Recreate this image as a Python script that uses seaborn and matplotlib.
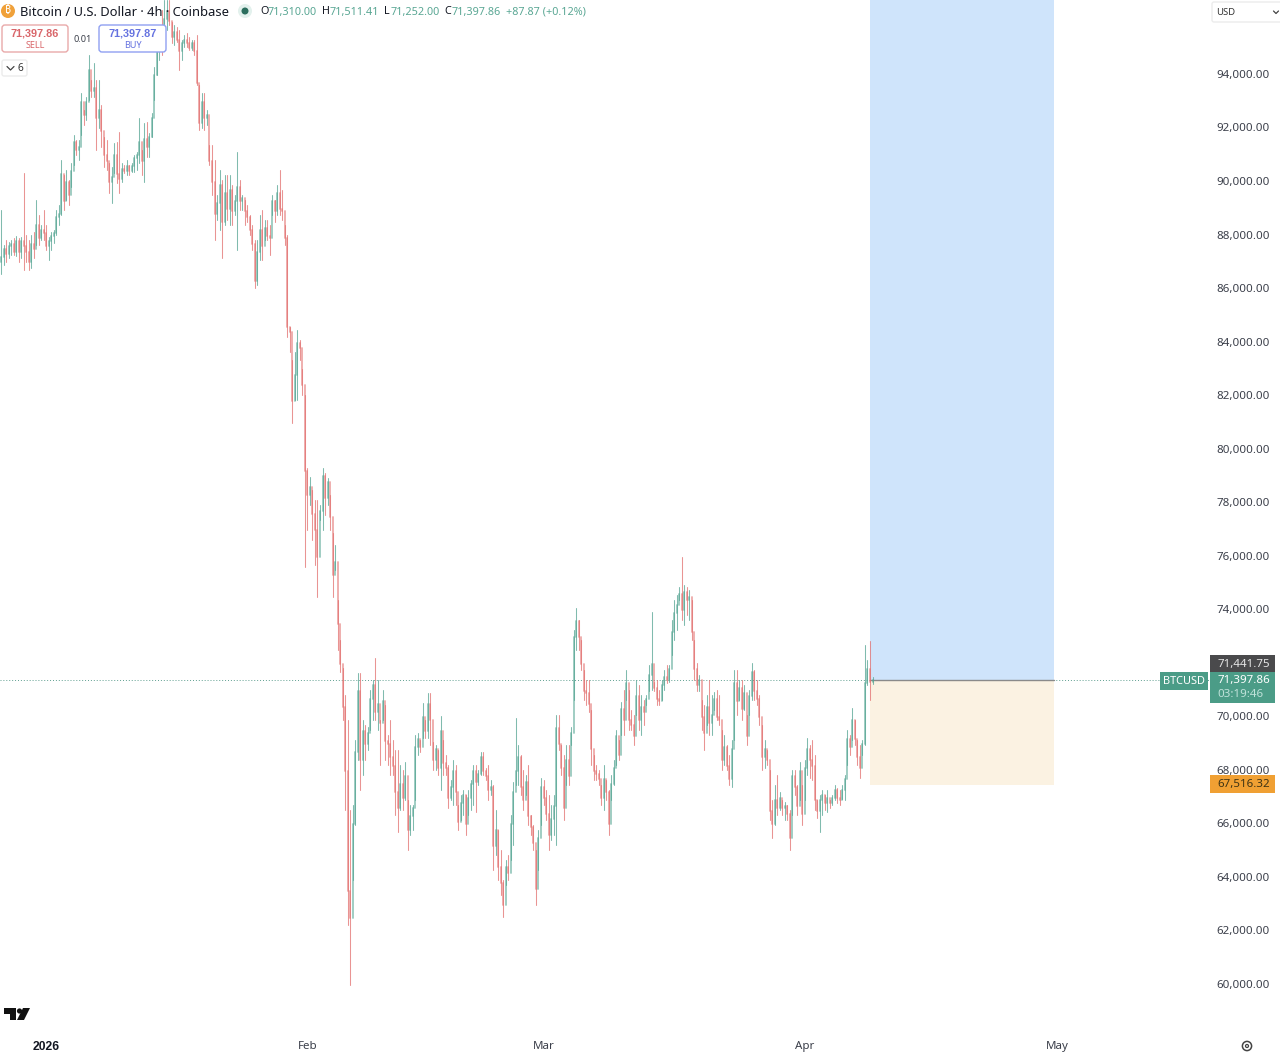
import numpy as np
import pandas as pd
import matplotlib
matplotlib.use("Agg")
import matplotlib.pyplot as plt
from matplotlib.patches import FancyBboxPatch, Rectangle, Circle, Polygon
from matplotlib.transforms import ScaledTranslation
import seaborn as sns

# Prices in thousands of USD, one list per field
highs = [
 88.95,87.65,87.83,87.76,87.83,87.9,87.98,87.9,87.95,90.34,
 88.02,87.83,88.02,88.13,89.33,88.77,88.39,88.95,88.39,87.95,
 88.13,88.21,88.95,89.14,90.82,90.26,90.45,90.08,90.71,91.76,
 91.57,91.57,93.33,92.69,93.18,94.75,93.81,94.45,93.81,93.81,
 92.88,91.68,91.57,90.71,90.56,91.46,91.49,91.87,90.71,90.64,
 90.82,90.64,90.71,91.01,91.12,92.39,91.2,92.2,92.24,91.83,
 92.58,94.3,95.12,95.87,96.43,96.8,96.8,96.8,95.98,95.87,
 95.79,95.68,95.31,95.49,95.57,95.42,95.31,95.31,95.49,93.62,
 93.33,93.33,92.69,91.38,91.38,90.82,89.51,90.45,90.08,90.26,
 90.26,90.26,89.89,89.51,91.12,90.08,89.51,89.33,89.14,88.77,
 88.39,87.83,87.83,88.77,88.95,88.58,88.58,88.39,89.51,89.33,
 89.89,90.45,89.7,88.39,88.02,84.58,83.35,83.65,84.47,84.1,
 83.0,82.04,79.32,78.98,78.49,78.12,78.12,77.93,79.32,79.13,
 78.94,78.31,76.89,76.44,74.38,72.89,71.84,70.84,69.9,66.54,
 66.72,69.15,71.66,71.66,69.9,69.71,69.63,71.02,71.39,72.22,
 71.39,69.9,71.02,70.46,69.34,69.9,69.15,68.78,68.78,68.22,
 68.03,68.33,66.91,66.72,66.72,69.34,69.41,69.15,70.54,69.9,
 70.91,70.91,69.08,68.97,68.78,70.05,69.15,68.59,68.22,67.66,
 68.41,68.22,66.72,67.1,67.29,67.1,67.29,67.66,68.22,68.22,
 68.03,68.71,68.71,68.11,68.22,67.66,67.47,66.54,65.79,65.04,
 63.92,64.67,64.86,66.35,67.58,69.98,68.97,68.59,68.03,67.85,
 68.22,66.35,65.98,65.04,65.79,67.73,67.66,67.29,67.1,66.72,
 67.1,70.09,70.09,68.97,68.59,68.97,68.97,69.63,73.26,74.08,
 73.64,72.89,71.77,71.39,71.39,70.27,68.59,68.22,68.03,67.47,
 68.22,67.66,
 67.29,67.85,68.41,69.53,69.15,70.57,71.02,71.77,71.02,70.27,
 70.09,71.39,71.2,70.84,70.65,70.84,71.96,73.94,71.32,71.39,
 71.02,71.39,71.77,71.96,71.96,73.64,74.38,74.57,74.87,76.0,
 74.94,74.87,74.76,74.38,72.89,72.03,71.58,70.65,70.46,70.84,
 71.39,70.84,70.95,71.02,70.84,69.53,69.34,68.97,68.59,69.15,
 71.77,71.77,71.39,71.39,71.2,70.09,71.02,72.03,71.77,71.39,
 70.84,69.71,69.15,68.78,68.03,66.91,67.47,67.85,67.21,66.91,
 66.84,66.72,66.54,68.03,68.03,67.47,68.33,67.47,68.41,69.23,
 68.97,69.15,68.59,66.91,67.1,67.29,67.1,67.29,66.91,67.1,67.47,67.36,
 67.29,67.47,67.85,69.53,69.34,70.35,69.9,69.15,68.97,69.15,72.7,
 72.14,72.85,71.511]
lows = [
 86.56,86.9,87.0,87.16,87.27,87.27,87.24,87.0,87.16,86.71,
 87.0,86.71,86.79,87.16,87.65,87.65,87.83,87.83,87.46,87.09,
 87.46,87.72,88.02,88.39,88.77,88.95,89.33,89.14,89.81,90.64,
 91.01,90.82,91.76,92.13,92.32,93.06,93.18,93.18,91.2,92.02,
 91.31,90.56,90.45,89.59,89.22,90.34,89.96,89.59,90.0,90.34,
 90.26,90.26,90.37,90.37,90.45,90.71,90.26,90.0,90.93,90.93,
 91.68,93.06,94.0,94.56,94.75,95.31,95.68,95.87,95.19,95.12,
 95.23,94.18,94.56,95.04,95.04,94.93,94.93,94.75,93.62,91.94,
 92.02,91.94,92.13,90.64,89.51,87.83,88.58,88.21,87.16,88.39,
 88.58,88.39,88.39,88.77,87.46,88.95,88.95,88.39,88.51,88.02,
 87.46,86.04,86.15,87.09,87.09,87.83,87.83,87.27,88.77,88.51,
 88.77,88.77,88.58,87.65,84.21,83.65,81.0,81.86,81.86,83.35,
 82.04,75.62,77.0,77.93,76.63,75.69,74.5,77.37,77.0,77.56,
 77.93,77.0,74.5,75.5,72.52,71.69,69.9,66.54,62.24,60.0,
 63.92,65.98,68.41,67.29,67.85,68.41,68.78,69.53,69.9,69.9,
 69.53,68.22,69.9,68.41,68.22,67.85,67.85,66.35,65.72,66.54,
 66.54,66.91,65.04,65.6,65.79,66.91,68.59,68.71,69.23,69.23,
 69.23,68.97,68.03,68.03,67.85,67.29,67.85,67.85,66.61,66.91,
 66.72,66.72,65.79,66.16,66.35,65.6,66.35,66.54,66.72,66.46,
 67.47,67.85,67.85,67.66,66.91,67.1,64.3,64.86,63.92,63.37,
 62.54,63.74,63.92,64.67,65.23,67.47,67.47,67.1,66.54,67.1,
 65.98,65.6,65.04,63.0,64.3,65.98,66.72,66.16,65.04,65.42,
 65.6,65.23,68.78,67.85,66.16,67.47,67.47,68.97,70.65,72.52,
 72.52,71.77,70.65,70.46,70.2,68.22,67.66,67.66,67.47,66.72,
 66.54,66.91,
 65.6,66.91,67.47,68.22,68.41,69.34,69.34,70.65,69.53,69.53,
 68.97,70.09,69.53,69.34,69.71,70.46,70.97,71.02,70.97,70.46,
 70.46,70.65,71.02,71.28,71.32,72.33,72.89,73.26,74.38,73.64,
 73.45,73.82,73.64,72.89,71.39,70.97,70.97,69.53,68.78,69.71,
 69.34,69.34,70.27,69.9,69.71,68.03,68.22,68.03,67.47,67.4,
 69.15,70.09,70.65,69.9,70.27,68.97,70.09,70.65,70.65,70.46,
 69.71,68.03,68.11,68.22,66.16,65.49,65.98,66.35,66.54,66.35,
 66.16,66.16,65.04,66.35,67.1,66.35,66.91,65.98,66.91,67.85,
 67.73,67.66,66.54,66.24,65.72,66.35,66.54,66.46,66.61,66.72,66.91,66.8,
 66.72,66.96,66.91,68.22,68.59,69.15,68.97,68.22,67.73,68.59,68.97,
 71.19,70.65,71.252]
closes = [
 87.2,87.5,87.3,87.6,87.7,87.4,87.8,87.4,87.8,87.6,
 87.4,87.0,87.7,87.5,88.4,87.9,88.2,88.1,87.6,87.8,
 88.0,88.1,88.7,88.8,90.3,89.3,90.0,89.5,90.4,91.5,
 91.2,91.3,93.0,92.5,93.0,94.2,93.4,93.5,92.4,92.7,
 91.9,91.0,90.8,90.0,90.2,91.0,90.3,90.1,90.5,90.4,
 90.6,90.4,90.6,90.9,91.0,91.5,90.8,91.6,91.3,91.7,
 92.4,94.0,94.9,95.6,95.0,96.1,96.4,96.0,95.4,95.6,
 95.3,94.9,95.2,95.3,95.2,95.0,95.2,94.9,93.7,92.2,
 93.0,92.4,92.5,90.8,90.0,88.8,89.2,89.9,88.5,89.6,
 89.0,89.7,88.9,89.3,89.8,89.3,89.4,88.9,88.7,88.2,
 87.7,86.3,87.4,88.2,87.6,88.3,88.0,87.9,89.3,88.9,
 89.6,89.0,88.9,87.9,84.6,84.4,81.8,82.8,84.0,83.8,
 82.4,79.2,78.3,78.6,77.6,77.0,76.0,77.7,79.0,78.2,
 78.8,77.5,75.3,75.8,73.5,72.0,70.4,68.0,63.5,62.5,
 66.0,68.7,71.0,68.4,69.5,69.0,69.4,70.7,71.2,70.2,
 70.5,69.8,70.6,69.1,69.0,68.5,68.2,67.2,66.6,67.5,
 67.0,67.8,65.8,66.3,66.6,68.9,69.2,68.9,70.0,69.5,
 70.5,69.9,68.4,68.8,68.1,69.5,68.3,68.1,67.0,67.4,
 68.0,67.2,66.1,66.8,67.1,66.0,67.0,67.5,68.0,67.6,
 67.9,68.5,68.0,67.8,67.3,67.4,65.2,65.8,64.4,63.8,
 63.0,64.4,64.2,66.0,67.2,68.0,68.5,67.4,66.9,67.6,
 66.3,65.9,65.3,63.6,65.5,67.4,67.0,66.4,65.6,66.2,
 66.7,69.6,69.0,68.1,66.6,68.4,67.8,69.4,73.0,73.6,
 73.0,72.0,71.0,70.9,70.5,68.8,68.0,67.9,67.7,67.0,
 67.7,67.2,
 66.0,67.5,68.1,69.3,68.6,70.3,69.9,71.3,69.9,69.7,
 69.3,70.8,69.9,70.4,70.2,70.7,71.6,72.0,71.1,70.7,
 70.6,71.2,71.5,71.4,71.8,73.2,73.9,74.2,74.6,74.0,
 74.7,74.4,74.5,73.2,71.8,71.2,71.4,70.0,69.4,70.4,
 69.8,70.1,70.7,70.0,69.9,68.4,68.9,68.2,67.7,68.8,
 71.3,70.6,71.1,70.3,70.9,69.3,70.8,71.7,71.0,70.7,
 70.0,68.5,68.8,68.4,66.5,66.0,66.9,66.6,67.0,66.6,
 66.7,66.4,65.5,67.8,67.4,66.7,68.0,66.4,68.1,68.8,
 68.4,68.2,66.9,66.5,66.9,67.1,66.8,67.0,66.8,67.0,67.3,67.0,
 66.9,67.3,67.7,69.2,68.9,69.9,69.2,68.5,68.1,69.0,71.3,
 71.8,71.31,71.39786]
first_open = 87.0
last_price = 71397.86
bid_line = 71441.75
stop_price = 67516.32
tick_prices = list(range(60000, 96000, 2000))
month_ticks = ["2026-01-01", "2026-02-01", "2026-03-01", "2026-04-01", "2026-05-01"]
month_labels = ["2026", "Feb", "Mar", "Apr", "May"]

n = min(len(highs), len(lows), len(closes))
highs, lows, closes = highs[:n], lows[:n], closes[:n]
dates = pd.date_range("2025-12-26 16:00", periods=n, freq="429min")
opens = [first_open] + closes[:-1]

wick_rows, body_rows = [], []
for i in range(n):
    d = "up" if closes[i] >= opens[i] else "down"
    wick_rows += [(i, dates[i], lows[i] * 1000, d), (i, dates[i], highs[i] * 1000, d)]
    body_rows += [(i, dates[i], opens[i] * 1000, d), (i, dates[i], closes[i] * 1000, d)]
cols = ["bar", "date", "price", "dir"]
wicks = pd.DataFrame(wick_rows, columns=cols)
bodies = pd.DataFrame(body_rows, columns=cols)

sns.set_theme(style="white")
plt.rcParams["font.family"] = ["Noto Sans", "DejaVu Sans"]

W, H = 1280, 1052
fig = plt.figure(figsize=(W / 100, H / 100), dpi=100, facecolor="white")
ax = fig.add_axes([0, (H - 1030) / H, 1210 / W, 1030 / H])

RED, GREEN = "#e2706f", "#55a593"
pal = {"up": GREEN, "down": RED}

d1, d2 = pd.Timestamp("2026-04-08 17:00"), pd.Timestamp("2026-04-30 15:00")
ax.fill_between([d1, d2], last_price, 97000, color="#cfe4fb", lw=0, zorder=1)
ax.fill_between([d1, d2], stop_price - 40, last_price, color="#fbf2e2", lw=0, zorder=1)
ax.plot([d1, d2], [last_price] * 2, color="#8a8a8a", lw=1, zorder=1.5)
ax.axhline(last_price, color="#5f9f90", lw=0.7, ls=(0, (1, 2)), zorder=1.2)

sns.lineplot(data=wicks, x="date", y="price", units="bar", estimator=None, hue="dir",
             palette=pal, lw=0.75, alpha=0.75, sort=False, legend=False, ax=ax, zorder=2)
sns.lineplot(data=bodies, x="date", y="price", units="bar", estimator=None, hue="dir",
             palette=pal, lw=1.3, alpha=0.6, sort=False, legend=False, ax=ax, zorder=3)

ax.set_xlim(pd.Timestamp("2026-01-01") - pd.Timedelta(days=46 / 8.43),
            pd.Timestamp("2026-01-01") + pd.Timedelta(days=(1210 - 46) / 8.43))
ax.set_ylim(96800 - 0.03736 * 1030 * 1000, 96800)
ax.set_xlabel(""); ax.set_ylabel("")
ax.yaxis.tick_right()
ax.set_yticks(tick_prices)
ax.set_yticklabels([f"{p:,.2f}" for p in tick_prices], ha="right", fontsize=8.3, color="#3b3f4a")
ax.tick_params(axis="y", length=0, pad=43.2)
up_1px = ScaledTranslation(0, 1 / 100, fig.dpi_scale_trans)
for t in ax.get_yticklabels():
    t.set_transform(t.get_transform() + up_1px)
ax.set_xticks([pd.Timestamp(m) for m in month_ticks])
ax.set_xticklabels(month_labels, fontsize=8.3, color="#3b3f4a")
ax.get_xticklabels()[0].set(fontweight="bold", family="Liberation Sans", fontsize=8.7, color="#131722")
ax.tick_params(axis="x", length=0, pad=8)
for s in ax.spines.values():
    s.set_visible(False)
ax.grid(False)
ax.patch.set_alpha(0)

ov = fig.add_axes([0, 0, 1, 1], zorder=10)
ov.set_xlim(0, W); ov.set_ylim(H, 0); ov.axis("off"); ov.patch.set_alpha(0)

def label(x, y, s, size=8.3, color="#131722", ha="left", weight="normal", family=None):
    ov.text(x, y + 1, s, fontsize=size, color=color, ha=ha, va="center", fontweight=weight,
            **({"family": family} if family else {}))

def rbox(x0, y0, x1, y1, ec, fc="white", r=3, lw=1):
    ov.add_patch(FancyBboxPatch((x0 + r, y0 + r), x1 - x0 - 2 * r, y1 - y0 - 2 * r,
                                boxstyle=f"round,pad={r},rounding_size={r}", ec=ec, fc=fc, lw=lw))

# Header
ov.add_patch(Circle((8, 11), 7, fc="#f0a13a", ec="none"))
label(8, 10, "₿", size=7.5, color="white", ha="center")
label(20, 11, "Bitcoin / U.S. Dollar · 4h · Coinbase", size=9.35)
ov.add_patch(Circle((245, 11), 7, fc="#e3f1ed", ec="none"))
ov.add_patch(Circle((245, 11), 3.5, fc="#2c6e5e", ec="none"))
HG = "#5aa794"
for x, s, c in [(260, "O", "#131722"), (268, "71,310.00", HG), (322, "H", "#131722"), (330, "71,511.41", HG),
                (384, "L", "#131722"), (391, "71,252.00", HG), (444, "C", "#131722"), (452, "71,397.86", HG),
                (506, "+87.87 (+0.12%)", HG)]:
    label(x, 11, s, size=7.8, color=c)

# Sell / buy
rbox(2, 25, 68, 52, "#e9a9a9")
label(35, 32, "71,397.86", size=7.8, color="#d9666a", ha="center", weight="bold", family="Liberation Sans")
label(35, 44, "SELL", size=6.5, color="#d9666a", ha="center")
label(83, 38, "0.01", size=6.6, color="#3b3f4a", ha="center")
rbox(99, 25, 166, 52, "#8fa0f2")
label(133, 32, "71,397.87", size=7.8, color="#6673e0", ha="center", weight="bold", family="Liberation Sans")
label(133, 44, "BUY", size=6.5, color="#6673e0", ha="center")
rbox(2, 60, 27, 76, "#ececec", r=2)
ov.plot([7, 10.5, 14], [66.5, 70, 66.5], color="#444", lw=0.9)
label(20, 67.5, "6", size=7.3, color="#333", ha="center")

# Currency
rbox(1212, 2, 1284, 22, "#ececec", r=2)
label(1216, 11.5, "USD", size=6.8, color="#333")
ov.plot([1273.5, 1276, 1278.5], [11, 13.5, 11], color="#444", lw=0.9)

# Price tags
ov.add_patch(Rectangle((1160, 672), 48, 18, fc="#4b9c87", ec="none"))
label(1184, 680, "BTCUSD", size=7.9, color="white", ha="center")
ov.add_patch(Rectangle((1210, 655), 64.5, 17, fc="#4a4a4c", ec="none"))
label(1270, 663, f"{bid_line:,.2f}", size=8.3, color="#e6e6e6", ha="right")
ov.add_patch(Rectangle((1210, 672), 64.5, 31, fc="#4b9c87", ec="none"))
label(1270, 680, f"{last_price:,.2f}", size=8.3, color="white", ha="right")
label(1263, 693.5, "03:19:46", size=8.3, color="#c0e2da", ha="right")
ov.add_patch(Rectangle((1210, 775), 64.5, 18, fc="#f0a033", ec="none"))
label(1270, 784, f"{stop_price:,.2f}", size=8.3, color="#3f3414", ha="right")

# Logo
ov.add_patch(Polygon([(4, 1008), (16, 1008), (16, 1020), (10, 1020), (10, 1014), (4, 1014)], fc="#111", ec="none"))
ov.add_patch(Circle((19.5, 1011), 2.6, fc="#111", ec="none"))
ov.add_patch(Polygon([(23, 1008), (30, 1008), (24, 1020), (17, 1020)], fc="#111", ec="none"))

# Gear
ov.add_patch(Circle((1247, 1046), 4.6, fc="white", ec="#444", lw=1.1))
ov.add_patch(Circle((1247, 1046), 1.5, fc="white", ec="#444", lw=0.9))

fig.savefig("out.png", dpi=100, facecolor="white")
